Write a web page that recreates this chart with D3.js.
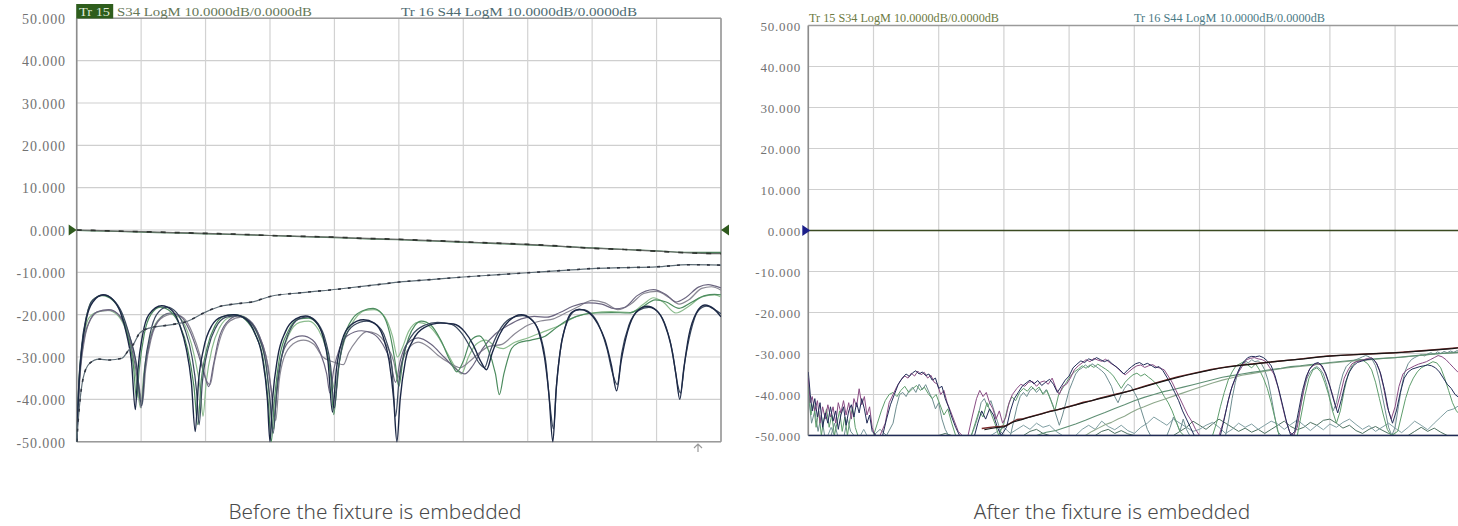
<!DOCTYPE html>
<html><head><meta charset="utf-8">
<script src="https://cdn.jsdelivr.net/npm/d3@7"></script>
<style>body{margin:0;background:#fff}svg{display:block}</style>
</head><body><svg id="c" width="1458" height="526"></svg>
<script>
// ---------- DATA ----------
const yTicks=[50,40,30,20,10,0,-10,-20,-30,-40,-50];
const yTickLabels=["50.000","40.000","30.000","20.000","10.000","0.000","-10.000","-20.000","-30.000","-40.000","-50.000"];
const xDivs=[0,1,2,3,4,5,6,7,8,9,10];
const captions=["Before the fixture is embedded","After the fixture is embedded"];
const headerLeft=["Tr 15","S34 LogM 10.0000dB/0.0000dB","Tr 16 S44 LogM 10.0000dB/0.0000dB"];
const headerRight=["Tr 15 S34 LogM 10.0000dB/0.0000dB","Tr 16 S44 LogM 10.0000dB/0.0000dB"];

// Before: insertion-like traces
const beforeTopA=[[0,0],[0.5,-0.2],[1,-0.4],[1.5,-0.6],[2,-0.8],[2.5,-1.0],[3,-1.3],[3.5,-1.5],[4,-1.7],[4.5,-2.0],[5,-2.2],[5.5,-2.5],[6,-2.8],[6.5,-3.1],[7,-3.4],[7.5,-3.8],[8,-4.3],[8.5,-4.6],[9,-5.0],[9.5,-5.4],[10,-5.6]];
const beforeTopB=[[0,-0.1],[0.5,-0.3],[1,-0.5],[1.5,-0.7],[2,-0.9],[2.5,-1.1],[3,-1.3],[3.5,-1.6],[4,-1.8],[4.5,-2.1],[5,-2.3],[5.5,-2.6],[6,-2.9],[6.5,-3.2],[7,-3.5],[7.5,-3.9],[8,-4.2],[8.5,-4.6],[9,-4.9],[9.5,-5.3],[10,-5.3]];
const beforeRise=[[0,-50],[0.04,-42],[0.1,-35],[0.2,-31.5],[0.35,-30.5],[0.5,-30.7],[0.7,-30.3],[0.8,-28.5],[0.88,-27],[0.98,-24.3],[1.14,-23.1],[1.45,-22.4],[1.71,-21.6],[1.97,-19.6],[2.23,-18],[2.5,-17.4],[2.75,-16.9],[3,-15.7],[3.5,-14.8],[4.04,-14],[4.56,-13.1],[5,-12.3],[5.5,-11.7],[6,-11.1],[6.5,-10.6],[7,-10.1],[7.5,-9.6],[8,-9.1],[8.5,-8.9],[9,-8.7],[9.5,-8.2],[10,-8.3]];
// Before: return-loss traces
const beforeD1=[[0,-50],[0.03,-38],[0.08,-28],[0.15,-21],[0.25,-17],[0.41,-15.3],[0.55,-16.3],[0.68,-19.5],[0.78,-25],[0.85,-31],[0.91,-42.4],[0.95,-33],[1.02,-25],[1.12,-20],[1.32,-17.9],[1.48,-19],[1.6,-22.5],[1.7,-28],[1.78,-36],[1.84,-47.6],[1.89,-36],[1.97,-28],[2.1,-22.5],[2.25,-20.5],[2.44,-20],[2.62,-21],[2.77,-24.5],[2.88,-30],[2.96,-40],[3.0,-50],[3.04,-40],[3.12,-30],[3.24,-24],[3.4,-21],[3.55,-20.3],[3.7,-21.5],[3.82,-25],[3.9,-31],[3.97,-43],[4.03,-33],[4.12,-26],[4.25,-22.5],[4.45,-21.2],[4.62,-22],[4.75,-25],[4.85,-31],[4.92,-40],[4.97,-50],[5.02,-40],[5.1,-31],[5.22,-26],[5.4,-23],[5.65,-22],[5.85,-22.2],[6.02,-24],[6.15,-27],[6.27,-31],[6.36,-33],[6.45,-29],[6.57,-24.5],[6.72,-21.3],[6.9,-20],[7.05,-21],[7.17,-24],[7.26,-30],[7.33,-39],[7.39,-50],[7.44,-38],[7.5,-29],[7.58,-23],[7.68,-19.5],[7.8,-18.7],[7.95,-19.5],[8.08,-22],[8.2,-26],[8.3,-32],[8.38,-38],[8.45,-31],[8.55,-24],[8.68,-19.5],[8.85,-18],[9.0,-19],[9.12,-22],[9.22,-27],[9.3,-34],[9.36,-40],[9.42,-33],[9.5,-25],[9.62,-19.5],[9.75,-17.7],[9.88,-18.5],[10,-20.5]];
const beforeD2=[[0,-50],[0.03,-37],[0.08,-27],[0.15,-20.5],[0.25,-16.5],[0.42,-15.4],[0.57,-16.5],[0.7,-19.5],[0.82,-25],[0.92,-31],[1.01,-41.5],[1.06,-32],[1.14,-24.5],[1.24,-20],[1.4,-18.2],[1.55,-19.5],[1.68,-23.5],[1.79,-30],[1.86,-38],[1.9,-46],[1.95,-36],[2.04,-28],[2.16,-23],[2.32,-20.6],[2.5,-20.2],[2.68,-21.5],[2.82,-25],[2.93,-31],[3.0,-40],[3.05,-48],[3.1,-39],[3.18,-30],[3.3,-24],[3.45,-21],[3.6,-20.5],[3.74,-22],[3.86,-26],[3.94,-32],[4.0,-42],[4.06,-33],[4.15,-26],[4.3,-22.5],[4.5,-21.5],[4.66,-22.5],[4.8,-26],[4.89,-32],[4.95,-44],[5.0,-36],[5.08,-29],[5.2,-25],[5.4,-22.5],[5.6,-21.8],[5.82,-22.3],[5.98,-24.5],[6.12,-28],[6.25,-31.5],[6.33,-32.5],[6.42,-28.5],[6.55,-24],[6.72,-21],[6.92,-20.2],[7.08,-21.5],[7.2,-25],[7.28,-31],[7.35,-42],[7.4,-47],[7.45,-36],[7.52,-27],[7.62,-21.5],[7.75,-19],[7.85,-18.8],[8.0,-20],[8.12,-23],[8.23,-28],[8.32,-34],[8.39,-36.5],[8.46,-29],[8.57,-22.5],[8.72,-19],[8.88,-18.3],[9.03,-19.5],[9.15,-23],[9.25,-29],[9.32,-36],[9.37,-38.5],[9.44,-31],[9.53,-24],[9.65,-19],[9.78,-18],[9.9,-18.8],[10,-19.8]];
const beforeG1=[[0,-50],[0.04,-36],[0.1,-27],[0.2,-21.5],[0.32,-19.3],[0.5,-18.8],[0.65,-20],[0.77,-23.5],[0.87,-29],[0.95,-36],[1.0,-42],[1.05,-34],[1.14,-26],[1.26,-21.5],[1.45,-19.6],[1.62,-20.5],[1.76,-24],[1.88,-29],[1.98,-34],[2.05,-37],[2.12,-32],[2.2,-26],[2.32,-22],[2.5,-20.3],[2.68,-21.3],[2.82,-24.5],[2.94,-30],[3.02,-38],[3.07,-44],[3.12,-35],[3.2,-29],[3.32,-26],[3.5,-25],[3.66,-26],[3.78,-29],[3.88,-34],[3.93,-38.5],[3.99,-33],[4.08,-28],[4.2,-25],[4.42,-23.8],[4.6,-24.5],[4.75,-27],[4.87,-31],[4.95,-36],[5.02,-31],[5.12,-27],[5.3,-25.5],[5.5,-27],[5.7,-30],[5.9,-33],[6.02,-34],[6.15,-32],[6.3,-28],[6.5,-24.5],[6.7,-22.5],[6.9,-21],[7.1,-20.4],[7.3,-20.6],[7.5,-19.5],[7.7,-18],[7.95,-17.2],[8.15,-17.5],[8.35,-18.6],[8.5,-18.3],[8.7,-15.5],[8.95,-14.1],[9.15,-15.3],[9.3,-17],[9.45,-16],[9.65,-13.5],[9.8,-12.9],[9.9,-13.2],[10,-13.7]];
const beforeG2=[[0,-50],[0.05,-35],[0.12,-26],[0.22,-21],[0.35,-19.2],[0.52,-19],[0.68,-20.5],[0.8,-24],[0.9,-30],[0.97,-37],[1.02,-41],[1.07,-33],[1.16,-25.5],[1.3,-21],[1.5,-19.8],[1.66,-20.8],[1.8,-24.5],[1.92,-30],[2.0,-35],[2.07,-36.5],[2.14,-31],[2.24,-25],[2.38,-21.5],[2.55,-20.6],[2.72,-22],[2.86,-26],[2.97,-32],[3.04,-40],[3.09,-45],[3.14,-36],[3.22,-30],[3.35,-27],[3.52,-26],[3.68,-27],[3.82,-30],[3.95,-31],[4.05,-31.5],[4.14,-31.8],[4.22,-29],[4.35,-26],[4.5,-24],[4.65,-24.5],[4.8,-27],[4.92,-31],[4.98,-35],[5.05,-31],[5.15,-28],[5.3,-26.5],[5.45,-27.5],[5.6,-29.5],[5.8,-31.5],[5.95,-32.5],[6.1,-31],[6.25,-29],[6.4,-27.5],[6.6,-27],[6.8,-24.5],[7.0,-22.5],[7.2,-21.5],[7.4,-21],[7.6,-19.5],[7.8,-18],[8.0,-16.6],[8.2,-17.2],[8.4,-18.8],[8.6,-17.5],[8.8,-15],[9.0,-14.5],[9.2,-16],[9.35,-17.5],[9.5,-16.5],[9.7,-13.8],[9.85,-13.4],[10,-14.2]];
const beforeG3=[[0,-50],[0.03,-37],[0.08,-27.5],[0.15,-20.5],[0.25,-16.5],[0.4,-15.5],[0.56,-16.6],[0.7,-20],[0.8,-25.5],[0.88,-32],[0.93,-40],[0.97,-33],[1.05,-24.5],[1.15,-20],[1.3,-18.2],[1.46,-19.3],[1.6,-22.5],[1.72,-28],[1.82,-37],[1.88,-46],[1.93,-36],[2.02,-28],[2.15,-22.5],[2.3,-20.3],[2.45,-20],[2.62,-21.2],[2.78,-25],[2.9,-31],[2.98,-42],[3.02,-50],[3.07,-40],[3.15,-30],[3.28,-24],[3.45,-21],[3.6,-20.8],[3.75,-22.5],[3.86,-27],[3.94,-34],[3.99,-43.6],[4.05,-34],[4.14,-26],[4.28,-21],[4.45,-19],[4.6,-18.5],[4.75,-20],[4.86,-24.5],[4.94,-31],[5.0,-37],[5.06,-31],[5.15,-25.5],[5.25,-22.5],[5.35,-21.5],[5.5,-22.5],[5.65,-26],[5.8,-31],[5.9,-33.5],[6.0,-31],[6.12,-26],[6.25,-25],[6.38,-28],[6.5,-34],[6.56,-38.9],[6.63,-34],[6.75,-28],[6.85,-26.7],[7.05,-26],[7.27,-25.1],[7.45,-23],[7.63,-21.2],[7.85,-20],[8.05,-19.6],[8.3,-19.5],[8.57,-19.6],[8.75,-18.5],[8.98,-16.5],[9.15,-17],[9.35,-18.5],[9.55,-17],[9.75,-15.5],[9.9,-15.2],[10,-15.3]];
const beforeG4=[[0,-50],[0.04,-36],[0.1,-27],[0.18,-21],[0.3,-19.5],[0.48,-19],[0.64,-20.2],[0.76,-23.5],[0.86,-29],[0.94,-37],[0.99,-42],[1.04,-34],[1.13,-26],[1.25,-21.5],[1.42,-19.8],[1.58,-20.5],[1.72,-24],[1.83,-30],[1.92,-38],[1.96,-44],[2.01,-36],[2.1,-28],[2.22,-23],[2.38,-20.6],[2.55,-20.3],[2.7,-21.8],[2.84,-26],[2.95,-33],[3.01,-43],[3.06,-47],[3.1,-38],[3.18,-30],[3.3,-24.5],[3.46,-21.8],[3.6,-21.5],[3.75,-23.5],[3.87,-28],[3.96,-35],[4.02,-38.5],[4.08,-31],[4.18,-25],[4.32,-21],[4.48,-19],[4.62,-18.8],[4.78,-20.5],[4.9,-25],[4.98,-30],[5.05,-28],[5.15,-24],[5.3,-21.8],[5.45,-22.5],[5.6,-25],[5.75,-29],[5.88,-32.5],[5.97,-34],[6.08,-30],[6.2,-27],[6.35,-26],[6.5,-27.5],[6.62,-28],[6.8,-26.5],[7.0,-25.5],[7.25,-24],[7.5,-22.5],[7.75,-20.5],[8.0,-19.6],[8.3,-19.3],[8.6,-19.5],[8.8,-17.5],[8.95,-16],[9.1,-17],[9.3,-19.6],[9.5,-18],[9.7,-15.8],[9.9,-15.3],[10,-15.8]];

// After: traces
const afterFlat=[[0,0],[10,0]];
const afterFloor=[[0,-50],[10,-50]];
const afterRiseA=[[2.66,-48.3],[2.75,-48.1],[2.85,-47.9],[2.95,-47.8],[3.04,-47.6],[3.12,-46.8],[3.2,-46.1],[3.3,-45.9],[3.45,-45.2],[3.58,-44.7],[3.7,-44.1],[3.83,-43.7],[3.96,-43.1],[4.1,-42.5],[4.22,-41.9],[4.35,-41.5],[4.47,-40.9],[4.7,-40],[4.93,-39.1],[5.17,-37.9],[5.41,-36.8],[5.66,-35.7],[5.92,-34.8],[6.18,-33.9],[6.44,-33.2],[6.7,-32.7],[6.95,-32.3],[7.2,-31.9],[7.46,-31.5],[7.72,-31],[7.97,-30.6],[8.23,-30.4],[8.49,-30.2],[8.75,-30],[9,-29.8],[9.25,-29.5],[9.51,-29.2],[9.75,-28.9],[10,-28.5]];
const afterRiseB=[[2.7,-48.6],[2.8,-48.3],[2.9,-48],[3.0,-47.9],[3.08,-47.2],[3.16,-46.6],[3.26,-46.2],[3.4,-45.5],[3.52,-45],[3.65,-44.4],[3.78,-43.9],[3.9,-43.4],[4.04,-42.8],[4.16,-42.3],[4.3,-41.7],[4.42,-41.2],[4.6,-40.5],[4.82,-39.6],[5.05,-38.6],[5.3,-37.4],[5.55,-36.3],[5.8,-35.3],[6.05,-34.4],[6.3,-33.6],[6.56,-33],[6.82,-32.6],[7.08,-32.1],[7.34,-31.7],[7.6,-31.3],[7.85,-30.8],[8.1,-30.5],[8.36,-30.3],[8.62,-30.1],[8.88,-29.9],[9.13,-29.7],[9.38,-29.4],[9.63,-29.1],[9.88,-28.8],[10,-28.6]];
const afterLowA=[[3.5,-50],[3.65,-49.2],[3.8,-48.8],[3.95,-48],[4.1,-47.2],[4.25,-46.3],[4.4,-45.3],[4.55,-44.4],[4.7,-43.4],[4.85,-42.5],[5.0,-41.5],[5.15,-40.7],[5.3,-40],[5.45,-39.3],[5.6,-38.8],[5.75,-38.2],[5.9,-37.6],[6.05,-37],[6.2,-36.4],[6.35,-35.8],[6.5,-35.4],[6.65,-35],[6.8,-34.6],[6.95,-34.3],[7.1,-33.9],[7.25,-33.6],[7.4,-33.2],[7.55,-33],[7.7,-32.7],[7.85,-32.5],[8.0,-32.2],[8.2,-31.9],[8.4,-31.6],[8.6,-31.4],[8.8,-31.2],[9.0,-31],[9.2,-30.7],[9.4,-30.4],[9.6,-30.1],[9.8,-29.9],[10,-29.7]];
const afterLowB=[[4.25,-50],[4.35,-49],[4.45,-48.2],[4.55,-47.4],[4.65,-46.8],[4.75,-46],[4.85,-45.3],[4.95,-44.4],[5.05,-43.6],[5.15,-43],[5.3,-42],[5.45,-41.2],[5.6,-40.4],[5.75,-39.6],[5.9,-38.8],[6.05,-38],[6.2,-37.2],[6.35,-36.5],[6.5,-35.9],[6.65,-35.3],[6.8,-34.9],[6.95,-34.5],[7.1,-34.1],[7.3,-33.6],[7.5,-33.2],[7.7,-32.9],[7.9,-32.5],[8.1,-32.2],[8.3,-31.9],[8.5,-31.7],[8.7,-31.4],[8.9,-31.1],[9.1,-30.9],[9.3,-30.6],[9.5,-30.3],[9.7,-30],[9.9,-29.8],[10,-29.7]];
const afterN1=[[0,-36],[0.03,-42],[0.06,-40.5],[0.1,-44],[0.14,-41.5],[0.18,-47],[0.22,-43],[0.26,-46],[0.3,-42.5],[0.34,-45.5],[0.38,-43],[0.42,-47],[0.46,-42],[0.5,-44.5],[0.54,-41.5],[0.58,-45],[0.62,-42],[0.66,-46],[0.7,-41],[0.74,-43],[0.78,-38.6],[0.82,-42.5],[0.86,-40.5],[0.9,-45],[0.94,-43],[0.98,-48],[1.02,-50],[1.1,-50],[1.18,-47],[1.24,-42],[1.3,-40],[1.36,-38],[1.42,-36.5],[1.48,-35.5],[1.53,-36],[1.58,-34.8],[1.63,-35.5],[1.68,-34.3],[1.73,-35.2],[1.78,-34.6],[1.83,-36],[1.88,-35.3],[1.93,-37],[1.98,-37.5],[2.03,-40],[2.08,-39],[2.13,-42],[2.18,-44],[2.24,-46.5],[2.3,-49],[2.36,-50],[2.45,-50],[2.52,-45],[2.58,-41],[2.63,-39],[2.68,-40.5],[2.73,-39.5],[2.78,-42],[2.83,-43.5],[2.88,-46],[2.93,-44],[2.98,-47],[3.03,-45.5],[3.08,-42],[3.13,-40],[3.2,-38.5],[3.26,-37.5],[3.32,-38],[3.38,-37],[3.44,-36.8],[3.5,-38],[3.56,-37],[3.62,-36.7],[3.68,-37.5],[3.74,-36],[3.8,-38.5],[3.85,-40],[3.9,-38],[3.96,-37.5],[4.02,-36],[4.08,-34],[4.14,-33],[4.2,-32.3],[4.26,-31.5],[4.32,-32],[4.38,-31.2],[4.44,-31.6],[4.5,-31.9],[4.56,-31.4],[4.62,-32.2],[4.68,-32.8],[4.74,-33.5],[4.8,-34.5],[4.86,-35.2],[4.92,-34.4],[4.98,-33.6],[5.04,-33],[5.1,-32.8],[5.16,-33.4],[5.22,-33],[5.28,-32.7],[5.34,-33.3],[5.4,-33.6],[5.46,-34],[5.52,-35.5],[5.58,-37],[5.64,-39],[5.7,-41],[5.76,-43],[5.82,-45],[5.88,-46.5],[5.94,-48.5],[6.0,-50],[6.3,-50],[6.36,-47],[6.42,-43],[6.48,-39],[6.54,-36.5],[6.6,-34.5],[6.66,-33],[6.72,-31.5],[6.78,-31.2],[6.84,-31],[6.9,-31.3],[6.96,-31.5],[7.02,-32],[7.08,-33.5],[7.14,-35],[7.2,-38],[7.26,-42],[7.32,-46],[7.38,-49],[7.44,-50],[7.5,-48],[7.56,-42],[7.62,-37],[7.68,-34],[7.74,-33],[7.8,-32.4],[7.86,-32.8],[7.92,-34.5],[7.98,-37],[8.04,-40],[8.1,-43.5],[8.16,-40],[8.22,-36],[8.28,-34],[8.34,-32.5],[8.4,-32],[8.46,-31.8],[8.52,-31.5],[8.58,-31.2],[8.64,-31],[8.7,-32],[8.76,-34],[8.82,-38],[8.88,-43],[8.94,-46],[9.0,-43],[9.06,-38],[9.12,-35],[9.18,-34],[9.24,-33.5],[9.3,-33],[9.36,-32.6],[9.42,-32.3],[9.48,-32],[9.54,-31.5],[9.6,-31],[9.66,-30.5],[9.72,-30.8],[9.78,-31.5],[9.84,-32.5],[9.9,-33.5],[9.96,-34.5],[10,-35]];
const afterN2=[[0,-34.5],[0.03,-40],[0.06,-44],[0.1,-41],[0.14,-45.5],[0.18,-42],[0.22,-48],[0.26,-44.5],[0.3,-47],[0.34,-43],[0.38,-46.5],[0.42,-44],[0.46,-48.5],[0.5,-45],[0.54,-43],[0.58,-47.5],[0.62,-44],[0.66,-42.5],[0.7,-45.5],[0.74,-42],[0.78,-44.5],[0.82,-41],[0.86,-43.5],[0.9,-47],[0.94,-45],[0.98,-49],[1.04,-50],[1.14,-50],[1.2,-46],[1.26,-42.5],[1.32,-40],[1.38,-37.5],[1.44,-36],[1.5,-35],[1.55,-35.6],[1.6,-34.7],[1.65,-34.2],[1.7,-35],[1.75,-34.5],[1.8,-35.4],[1.85,-35],[1.9,-36.5],[1.95,-36],[2.0,-38.5],[2.05,-38],[2.1,-41],[2.15,-43],[2.2,-45.5],[2.26,-48],[2.32,-50],[2.55,-50],[2.6,-47],[2.66,-44],[2.72,-46],[2.78,-43.5],[2.84,-45],[2.9,-48],[2.96,-50],[3.04,-48],[3.1,-44],[3.16,-41],[3.22,-39.5],[3.28,-38],[3.34,-37.2],[3.4,-36.5],[3.46,-37.4],[3.52,-36.6],[3.58,-37.8],[3.64,-37],[3.7,-36.3],[3.76,-37.5],[3.82,-39.5],[3.88,-38],[3.94,-36.5],[4.0,-35.5],[4.06,-33.5],[4.12,-32.6],[4.18,-31.8],[4.24,-32.2],[4.3,-31.3],[4.36,-31.7],[4.42,-31],[4.48,-31.5],[4.54,-32],[4.6,-31.6],[4.66,-32.5],[4.72,-33.2],[4.78,-34],[4.84,-35],[4.9,-34],[4.96,-33.2],[5.02,-32.5],[5.08,-32.2],[5.14,-32.8],[5.2,-32.4],[5.26,-32.9],[5.32,-33.5],[5.38,-33.2],[5.44,-34.2],[5.5,-35.8],[5.56,-37.5],[5.62,-39.5],[5.68,-41.5],[5.74,-44],[5.8,-46],[5.86,-48],[5.92,-50],[6.32,-50],[6.38,-46],[6.44,-41.5],[6.5,-38],[6.56,-35.5],[6.62,-33.5],[6.68,-32],[6.74,-31],[6.8,-30.7],[6.86,-30.8],[6.92,-30.6],[6.98,-31],[7.04,-31.8],[7.1,-33],[7.16,-35.5],[7.22,-39],[7.28,-43],[7.34,-47],[7.4,-50],[7.46,-49],[7.52,-44],[7.58,-39],[7.64,-35.5],[7.7,-33.5],[7.76,-32.5],[7.82,-32.2],[7.88,-33],[7.94,-35],[8.0,-38],[8.06,-41.5],[8.12,-44.5],[8.18,-41],[8.24,-37],[8.3,-34.5],[8.36,-33],[8.42,-32.2],[8.48,-31.9],[8.54,-31.6],[8.6,-31.4],[8.66,-31.3],[8.72,-32.5],[8.78,-35],[8.84,-39],[8.9,-44],[8.96,-47],[9.02,-44],[9.08,-39.5],[9.14,-36],[9.2,-34.5],[9.26,-33.8],[9.32,-33.5],[9.38,-33.2],[9.44,-33],[9.5,-32.8],[9.56,-33],[9.62,-33.5],[9.68,-34.5],[9.74,-36],[9.8,-37.5],[9.86,-38.5],[9.92,-40],[10,-41]];
const afterN3=[[0,-38],[0.04,-45],[0.08,-42],[0.12,-48],[0.16,-44],[0.2,-50],[0.24,-46],[0.28,-43.5],[0.32,-48],[0.36,-45],[0.4,-50],[0.44,-47],[0.48,-44],[0.52,-49],[0.56,-45.5],[0.6,-50],[0.64,-46],[0.68,-43],[0.72,-48],[0.76,-50],[1.0,-50],[1.06,-47],[1.12,-44],[1.18,-41.5],[1.24,-40],[1.3,-39.5],[1.36,-40.5],[1.42,-39],[1.48,-38],[1.54,-39.5],[1.6,-38.6],[1.66,-37.8],[1.72,-39],[1.78,-38.2],[1.84,-39.8],[1.9,-41],[1.96,-40],[2.02,-42.5],[2.08,-45],[2.14,-43.5],[2.2,-47],[2.26,-50],[2.5,-50],[2.56,-47],[2.62,-44],[2.68,-45.5],[2.74,-42],[2.8,-44.5],[2.86,-47],[2.92,-50],[3.0,-47],[3.06,-43],[3.12,-40.5],[3.18,-41.5],[3.24,-39.5],[3.3,-38.5],[3.36,-39.2],[3.42,-38],[3.48,-39],[3.54,-38.2],[3.6,-40],[3.66,-39],[3.72,-41.5],[3.78,-44],[3.84,-40],[3.9,-38.5],[3.96,-37],[4.02,-35.5],[4.08,-34.5],[4.14,-33.8],[4.2,-33],[4.26,-33.6],[4.32,-32.8],[4.38,-33.4],[4.44,-32.6],[4.5,-33.2],[4.56,-33.8],[4.62,-34.5],[4.68,-35.5],[4.74,-37],[4.8,-38.5],[4.86,-37],[4.92,-36],[4.98,-35.2],[5.04,-34.8],[5.1,-35.5],[5.16,-35],[5.22,-35.8],[5.28,-36.5],[5.34,-37.5],[5.4,-38.8],[5.46,-40.5],[5.52,-42],[5.58,-44],[5.64,-46.5],[5.7,-49],[5.76,-50],[6.2,-50],[6.26,-47],[6.32,-43],[6.38,-39.5],[6.44,-36.5],[6.5,-34.5],[6.56,-33],[6.62,-32.5],[6.68,-32],[6.74,-32.8],[6.8,-33.5],[6.86,-32.5],[6.92,-34],[6.98,-36],[7.04,-38.5],[7.1,-42],[7.16,-46],[7.22,-50],[7.5,-50],[7.56,-45],[7.62,-40],[7.68,-36],[7.74,-34],[7.8,-33.5],[7.86,-34.5],[7.92,-37],[7.98,-40],[8.04,-44],[8.1,-47],[8.16,-44],[8.22,-39],[8.28,-35],[8.34,-33],[8.4,-32],[8.46,-31.5],[8.52,-31.8],[8.58,-32.5],[8.64,-34],[8.7,-37],[8.76,-41],[8.82,-45],[8.88,-48.5],[8.94,-50],[9.04,-49],[9.1,-45],[9.16,-41],[9.22,-38],[9.28,-36],[9.34,-34.5],[9.4,-33.5],[9.46,-33],[9.52,-32.5],[9.58,-32],[9.64,-32.3],[9.7,-33.5],[9.76,-36],[9.82,-39],[9.88,-42],[9.94,-44],[10,-45]];
const afterN4=[[0,-40],[0.05,-47],[0.1,-44],[0.15,-49],[0.2,-45],[0.25,-50],[0.35,-50],[0.4,-47],[0.45,-50],[0.55,-50],[0.6,-46],[0.65,-49],[0.7,-50],[1.0,-50],[1.1,-48.5],[1.2,-50],[1.3,-47],[1.35,-43],[1.4,-40],[1.45,-39.5],[1.5,-40.5],[1.55,-39],[1.6,-38.2],[1.65,-39.5],[1.7,-37.5],[1.75,-38.8],[1.8,-37.6],[1.85,-39.4],[1.9,-41],[1.95,-43.5],[2.0,-42],[2.05,-46],[2.1,-48.5],[2.15,-50],[2.5,-50],[2.55,-48],[2.6,-45.5],[2.65,-42],[2.7,-41],[2.75,-43],[2.8,-41.5],[2.85,-44],[2.9,-46.5],[2.95,-49],[3.0,-50],[3.1,-50],[3.15,-46.5],[3.2,-43],[3.25,-40.5],[3.3,-39.5],[3.35,-40.5],[3.4,-39],[3.45,-38.4],[3.5,-39.5],[3.55,-38.6],[3.6,-39.8],[3.65,-38.8],[3.7,-40.5],[3.75,-42.5],[3.8,-45],[3.85,-47.5],[3.9,-45],[3.95,-42],[4.0,-39],[4.05,-37],[4.1,-35],[4.15,-34],[4.2,-33.5],[4.25,-32.8],[4.3,-33.4],[4.35,-32.5],[4.4,-33],[4.45,-33.6],[4.5,-34.2],[4.55,-35],[4.6,-36.5],[4.65,-38],[4.7,-40.5],[4.75,-42],[4.8,-40],[4.85,-38.5],[4.9,-37.5],[4.95,-38],[5.0,-39.5],[5.05,-41],[5.1,-43.5],[5.15,-46],[5.2,-48.5],[5.25,-50],[5.5,-50],[5.55,-48],[5.6,-45.5],[5.65,-47],[5.7,-49],[5.75,-46],[5.8,-48.5],[5.85,-50],[6.4,-50],[6.45,-46],[6.5,-41],[6.55,-37],[6.6,-34],[6.65,-32.5],[6.7,-31.8],[6.75,-32.3],[6.8,-31.5],[6.85,-32],[6.9,-31.8],[6.95,-32.5],[7.0,-34],[7.05,-36.5],[7.1,-40.5],[7.15,-45],[7.2,-49],[7.25,-50],[7.45,-50],[7.5,-47],[7.55,-43],[7.6,-39],[7.65,-36],[7.7,-34.5],[7.75,-33.6],[7.8,-33.2],[7.85,-33.8],[7.9,-35],[7.95,-37.5],[8.0,-41],[8.05,-44],[8.1,-42],[8.15,-38],[8.2,-35],[8.25,-33.2],[8.3,-32.4],[8.35,-31.8],[8.4,-31.5],[8.45,-31.2],[8.5,-30.8],[8.55,-30.5],[8.6,-30.8],[8.65,-31.5],[8.7,-33],[8.75,-36],[8.8,-40],[8.85,-44],[8.9,-48],[8.95,-50],[9.0,-48],[9.05,-43],[9.1,-38],[9.15,-34.5],[9.2,-32.5],[9.25,-31.5],[9.3,-31],[9.35,-30.6],[9.4,-30.3],[9.45,-30.6],[9.5,-30.1],[9.55,-29.8],[9.6,-30.2],[9.65,-29.6],[9.7,-30],[9.75,-29.5],[9.8,-29.8],[9.85,-29.4],[9.9,-29.7],[9.95,-29.3],[10,-29.6]];
const afterN5=[[0,-50],[0.3,-50],[0.35,-48],[0.4,-50],[0.8,-50],[0.85,-48.5],[0.9,-50],[2.8,-50],[2.9,-49],[3.0,-48],[3.1,-49.5],[3.2,-48.5],[3.3,-47.5],[3.4,-48.5],[3.5,-47],[3.6,-48],[3.7,-47.5],[3.8,-49],[3.9,-50],[4.1,-50],[4.2,-48.5],[4.3,-47.5],[4.4,-48.5],[4.5,-46.5],[4.6,-47.8],[4.7,-48.6],[4.8,-47.5],[4.9,-48.8],[5.0,-49.5],[5.1,-48],[5.2,-47],[5.3,-45.5],[5.4,-46.5],[5.5,-47.5],[5.6,-46],[5.7,-47],[5.8,-48],[5.9,-49],[6.0,-48.5],[6.1,-47.5],[6.2,-46.8],[6.3,-48],[6.4,-49.5],[6.5,-48.5],[6.6,-47],[6.7,-48],[6.8,-47.2],[6.9,-48.5],[7.0,-47.5],[7.1,-46.5],[7.2,-47.2],[7.3,-48.5],[7.4,-47.3],[7.5,-46.2],[7.6,-47.5],[7.7,-48.8],[7.8,-47.5],[7.9,-48.6],[8.0,-47.2],[8.1,-48],[8.2,-46.8],[8.3,-46],[8.4,-47.3],[8.5,-48.5],[8.6,-47.6],[8.7,-49],[8.8,-48],[8.9,-47],[9.0,-48.2],[9.1,-49.3],[9.2,-48],[9.3,-46.5],[9.4,-47.5],[9.5,-48.6],[9.6,-47],[9.7,-45.5],[9.8,-44],[9.9,-43.5],[10,-42.5]];
const afterN6=[[0,-50],[2.0,-50],[2.1,-49.5],[2.2,-50],[3.3,-50],[3.4,-49],[3.5,-48.5],[3.6,-49.5],[3.7,-50],[4.4,-50],[4.5,-49],[4.6,-48.5],[4.7,-49.5],[4.8,-48.8],[4.9,-49.6],[5.0,-50],[5.6,-50],[5.7,-49],[5.8,-48],[5.9,-46.5],[6.0,-47.5],[6.1,-48.5],[6.2,-47.2],[6.3,-46],[6.4,-47],[6.5,-48],[6.6,-49],[6.7,-48.2],[6.8,-49.2],[6.9,-48.5],[7.0,-49.5],[7.1,-48.5],[7.2,-47.5],[7.3,-46.5],[7.4,-47.8],[7.5,-48.6],[7.6,-48],[7.7,-46.8],[7.8,-47.5],[7.9,-46.3],[8.0,-46],[8.1,-47],[8.2,-48.2],[8.3,-47.5],[8.4,-48.8],[8.5,-49.5],[8.6,-48.5],[8.7,-47.8],[8.8,-48.7],[8.9,-49.5],[9.0,-50],[9.2,-50],[9.3,-49],[9.4,-48],[9.5,-49],[9.6,-48.2],[9.7,-49.2],[9.8,-50],[10,-50]];

// ---------- STYLES / LAYOUT ----------
const svg=d3.select("#c");
const P={
  L:{x0:76.7,x1:721,y0:18.3,y1:441.7,labelX:66,labelSize:14,ls:0.9},
  R:{x0:808.3,x1:1460.3,y0:25.5,y1:435.5,labelX:801,labelSize:13,ls:0.8}
};
function scales(p){
  return {x:d3.scaleLinear().domain([0,10]).range([p.x0,p.x1]),
          y:d3.scaleLinear().domain([-50,50]).range([p.y1,p.y0]).clamp(true)};
}
const sL=scales(P.L), sR=scales(P.R);
const defs=svg.append("defs");
function clip(id,p){defs.append("clipPath").attr("id",id).append("rect")
  .attr("x",p.x0).attr("y",p.y0-1).attr("width",Math.min(p.x1,1458)-p.x0).attr("height",p.y1-p.y0+2);}
clip("clipL",P.L); clip("clipR",P.R);

function frame(p,s,right){
  const g=svg.append("g");
  g.selectAll("line.h").data(yTicks).join("line")
    .attr("x1",p.x0).attr("x2",Math.min(p.x1,1458)).attr("y1",d=>s.y(d)).attr("y2",d=>s.y(d))
    .attr("stroke","#cfcfcf").attr("stroke-width",1.2);
  g.selectAll("line.v").data(xDivs).join("line")
    .attr("x1",d=>s.x(d)).attr("x2",d=>s.x(d)).attr("y1",p.y0).attr("y2",p.y1)
    .attr("stroke","#d2d2d2").attr("stroke-width",1.2);
  g.append("line").attr("x1",p.x0).attr("x2",p.x0).attr("y1",p.y0).attr("y2",p.y1).attr("stroke","#8c8c8c").attr("stroke-width",1.6);
  g.append("line").attr("x1",p.x0).attr("x2",Math.min(p.x1,1458)).attr("y1",p.y0).attr("y2",p.y0).attr("stroke","#9a9a9a").attr("stroke-width",1.4);
  g.append("line").attr("x1",p.x0).attr("x2",Math.min(p.x1,1458)).attr("y1",p.y1).attr("y2",p.y1).attr("stroke","#9a9a9a").attr("stroke-width",1.6);
  if(!right) g.append("line").attr("x1",p.x1).attr("x2",p.x1).attr("y1",p.y0).attr("y2",p.y1).attr("stroke","#9a9a9a").attr("stroke-width",1.6);
  const ax=d3.axisLeft(s.y).tickValues(yTicks).tickFormat((d,i)=>yTickLabels[i]).tickSize(0).tickPadding(0);
  const ag=svg.append("g").attr("transform",`translate(${p.labelX},0)`).call(ax);
  ag.select(".domain").remove();
  ag.selectAll("text").attr("font-family","'Liberation Serif','DejaVu Serif',serif")
    .attr("font-size",p.labelSize).attr("fill","#727272").attr("dy","0.38em")
    .attr("letter-spacing",p.ls);
}
frame(P.L,sL,false);
frame(P.R,sR,true);

function draw(clipId,s,data,color,w,curve,dash){
  const line=d3.line().x(d=>s.x(d[0])).y(d=>s.y(d[1])).curve(curve||d3.curveLinear);
  const p=svg.append("path").attr("clip-path",`url(#${clipId})`).attr("d",line(data))
    .attr("fill","none").attr("stroke",color).attr("stroke-width",w).attr("stroke-linejoin","round");
  if(dash) p.attr("stroke-dasharray",dash);
}
const cm=d3.curveMonotoneX;
draw("clipL",sL,beforeG4,"#8cbc8e",1.2,cm);
draw("clipL",sL,beforeG2,"#8a8894",1.2,cm);
draw("clipL",sL,beforeG1,"#6c6680",1.2,cm);
draw("clipL",sL,beforeG3,"#4d8c5f",1.2,cm);
draw("clipL",sL,beforeD2,"#3c4a5f",1.25,cm);
draw("clipL",sL,beforeD1,"#1c2846",1.4,cm);
draw("clipL",sL,beforeRise,"#5f6f78",1.2,cm);
draw("clipL",sL,beforeRise,"#2f3440",1.6,cm,"3 7");
draw("clipL",sL,beforeTopB,"#4c7f5a",1.2,cm);
draw("clipL",sL,beforeTopA,"#666a66",1.2,cm);
draw("clipL",sL,beforeTopA,"#2f3530",1.7,cm,"5 9");

draw("clipR",sR,afterN6,"#4f7262",1);
draw("clipR",sR,afterN5,"#7f9ea2",1);
draw("clipR",sR,afterN4,"#6e8d90",1);
draw("clipR",sR,afterN3,"#5e9d6c",1);
draw("clipR",sR,afterLowB,"#8ea88c",1.1);
draw("clipR",sR,afterLowA,"#5f8f74",1.1);
draw("clipR",sR,afterN1,"#8a4c84",1);
draw("clipR",sR,afterN2,"#222c58",1);
draw("clipR",sR,afterRiseA,"#7a2c2c",1.4);
draw("clipR",sR,afterRiseB,"#161616",1.2);
draw("clipR",sR,afterFloor,"#1f2a55",1.6);
draw("clipR",sR,afterFlat,"#3b4a22",1.4);

function tri(x,y,dir,color){
  const pts=dir>0?[[x-8,y-5.5],[x,y],[x-8,y+5.5]]:[[x+8,y-5.5],[x,y],[x+8,y+5.5]];
  svg.append("path").attr("d",d3.line()(pts)+"Z").attr("fill",color);
}
tri(P.L.x0,sL.y(0),1,"#2f5a1e");
tri(P.L.x1,sL.y(0),-1,"#2f5a1e");
tri(P.R.x0+2,sR.y(0),1,"#1c1f8a");
svg.append("path").attr("d","M698,452 L698,444 M694,448 L698,444 L702,448").attr("stroke","#9a9a9a").attr("fill","none").attr("stroke-width",1.2);

const hf="'Liberation Serif','DejaVu Serif',serif";
svg.append("rect").attr("x",P.L.x0-0.5).attr("y",4).attr("width",37).attr("height",14.5).attr("fill","#2e5d1c");
svg.append("text").attr("x",79).attr("y",15.5).attr("font-family",hf).attr("font-size",12.5).attr("fill","#dfe9d6").text(headerLeft[0]).attr("textLength",31).attr("lengthAdjust","spacingAndGlyphs");
svg.append("text").attr("x",117).attr("y",15.5).attr("font-family",hf).attr("font-size",12.5).attr("fill","#667858").text(headerLeft[1]).attr("textLength",195).attr("lengthAdjust","spacingAndGlyphs");
svg.append("text").attr("x",401).attr("y",15.5).attr("font-family",hf).attr("font-size",12.5).attr("fill","#4e6b72").text(headerLeft[2]).attr("textLength",236).attr("lengthAdjust","spacingAndGlyphs");
svg.append("text").attr("x",809).attr("y",22).attr("font-family",hf).attr("font-size",11.5).attr("fill","#6c7a42").text(headerRight[0]).attr("textLength",190).attr("lengthAdjust","spacingAndGlyphs");
svg.append("text").attr("x",1134).attr("y",22).attr("font-family",hf).attr("font-size",11.5).attr("fill","#4b7a86").text(headerRight[1]).attr("textLength",191).attr("lengthAdjust","spacingAndGlyphs");

const cf="'Noto Sans','Open Sans',sans-serif";
svg.append("text").attr("x",375).attr("y",519).attr("text-anchor","middle").attr("font-family",cf).attr("font-size",20.8).attr("font-weight",300).attr("fill","#4a4a4a").text(captions[0]);
svg.append("text").attr("x",1112).attr("y",519).attr("text-anchor","middle").attr("font-family",cf).attr("font-size",20.8).attr("font-weight",300).attr("fill","#4a4a4a").text(captions[1]);
</script></body></html>
